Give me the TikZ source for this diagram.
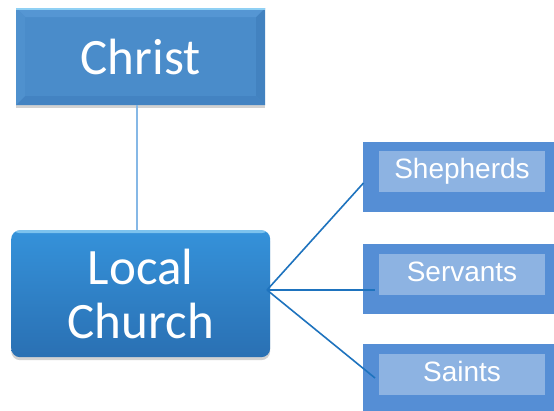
\documentclass[tikz,border=0pt]{standalone}
\usepackage{fontspec}
\setmainfont{Carlito}
\newfontfamily\arialf{Liberation Sans}
\usetikzlibrary{shadows}
\definecolor{christmain}{HTML}{4A8CCA}
\definecolor{bevtop}{HTML}{5596D3}
\definecolor{bevleft}{HTML}{4F91CE}
\definecolor{bevright}{HTML}{4282C0}
\definecolor{bevbot}{HTML}{4383C2}
\definecolor{hilite}{HTML}{8FD0F4}
\definecolor{churchtop}{HTML}{3592DA}
\definecolor{churchbot}{HTML}{2A70B3}
\definecolor{outerblue}{HTML}{558ED5}
\definecolor{innerblue}{HTML}{8DB3E2}
\definecolor{linkblue}{HTML}{1E73BE}
\definecolor{paleline}{HTML}{86B8E6}
\tikzset{
  bigtext/.style={text=white, font=\fontsize{51}{56}\selectfont, align=center, inner sep=0pt},
  shadowed/.style={drop shadow={shadow xshift=0pt, shadow yshift=-3pt, fill=black!50, opacity=.35}},
  outerbox/.style={fill=outerblue, minimum width=193pt, minimum height=70pt, inner sep=0pt, anchor=north west},
  innerbox/.style={fill=innerblue, minimum width=166pt, minimum height=41pt, inner sep=0pt,
    text=white, font=\arialf\fontsize{28}{30}\selectfont, text height=20pt, text depth=6pt},
  link/.style={draw=linkblue, line width=1.6pt},
  stem/.style={draw=paleline, line width=1.6pt},
}
\begin{document}
\begin{tikzpicture}[x=1pt,y=-1pt]
\useasboundingbox[fill=white] (0,0) rectangle (554,411);

% Christ box
\node[bigtext, shadowed, fill=christmain, minimum width=249pt, minimum height=97pt, anchor=north west,
  path picture={
    \fill[bevtop] (path picture bounding box.north west) -- (path picture bounding box.north east)
      -- ([shift={(-9,9)}]path picture bounding box.north east) -- ([shift={(9,9)}]path picture bounding box.north west) -- cycle;
    \fill[bevleft] (path picture bounding box.north west) -- ([shift={(9,9)}]path picture bounding box.north west)
      -- ([shift={(9,-9)}]path picture bounding box.south west) -- (path picture bounding box.south west) -- cycle;
    \fill[bevright] (path picture bounding box.north east) -- ([shift={(-9,9)}]path picture bounding box.north east)
      -- ([shift={(-9,-9)}]path picture bounding box.south east) -- (path picture bounding box.south east) -- cycle;
    \fill[bevbot] (path picture bounding box.south west) -- ([shift={(9,-9)}]path picture bounding box.south west)
      -- ([shift={(-9,-9)}]path picture bounding box.south east) -- (path picture bounding box.south east) -- cycle;
    \fill[hilite] (path picture bounding box.north west) rectangle ([shift={(0,2)}]path picture bounding box.north east);
  }] (christ) at (16,8) {Christ};

% Local Church box
\node[bigtext, shadowed, rounded corners=9pt, top color=churchtop, bottom color=churchbot,
  minimum width=259pt, minimum height=127pt, anchor=north west,
  path picture={
    \fill[hilite, opacity=.8] (path picture bounding box.north west) rectangle ([shift={(0,3)}]path picture bounding box.north east);
  }] (church) at (11,230) {Local\\[-2pt]Church};

% connector Christ - Local Church
\draw[stem] ([xshift=-3.5pt]christ.south) -- ([xshift=-3.5pt]church.north);

% right boxes
\node[outerbox] (shepbox) at (363,142) {};
\node[innerbox] (shep) at (462,171.5) {Shepherds};
\node[outerbox] (servbox) at (363,244) {};
\node[innerbox] (serv) at (462,274.5) {Servants};
\node[outerbox] (saintbox) at (363,344) {};
\node[innerbox] (saint) at (462,374.5) {Saints};

% fan connectors
\coordinate (hub) at (267,290);
\coordinate (e1) at (363.5,183);
\coordinate (e2) at (375,290);
\coordinate (e3) at (375,378);
\draw[link] (hub) -- (e1);
\draw[link] (hub) -- (e2);
\draw[link] (hub) -- (e3);
\end{tikzpicture}
\end{document}
